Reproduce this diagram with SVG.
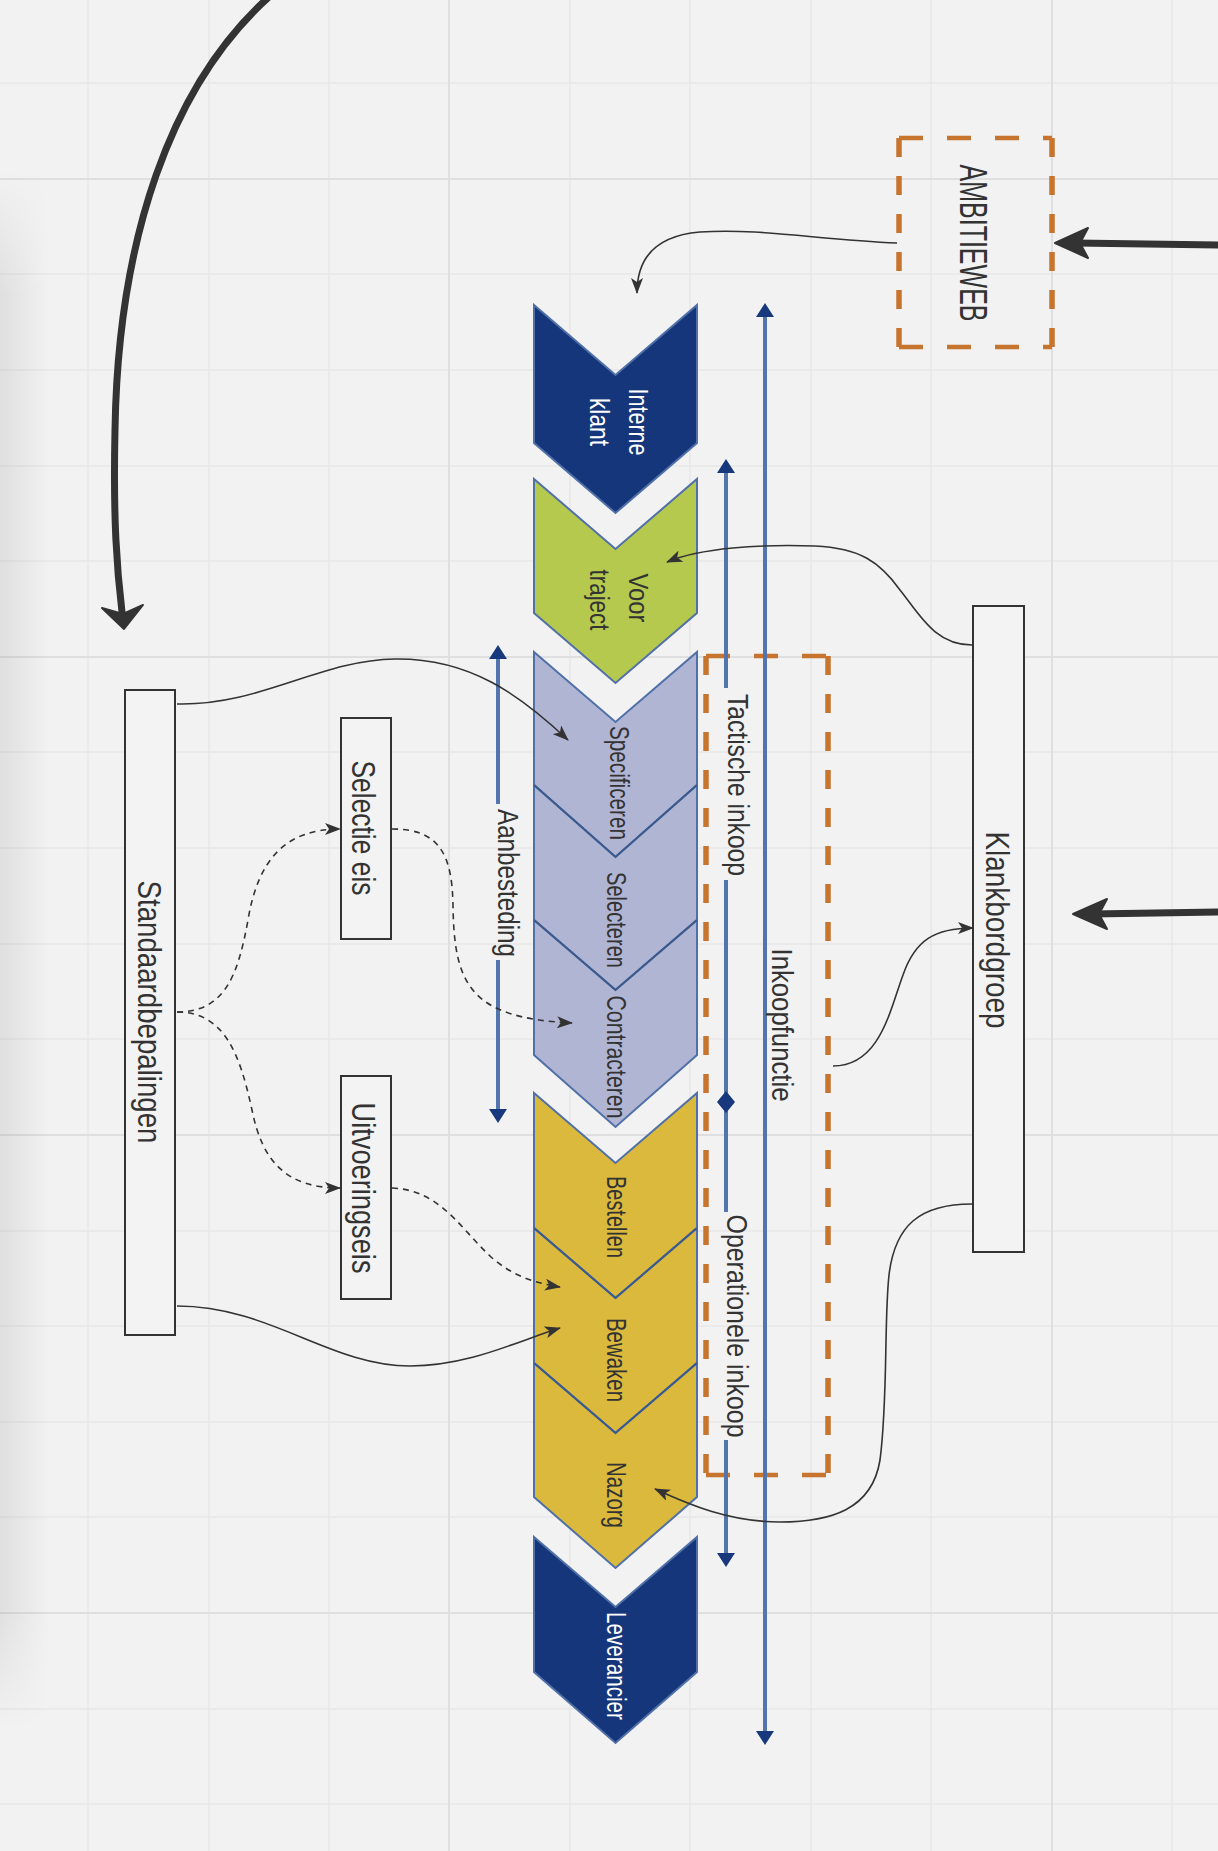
<svg xmlns="http://www.w3.org/2000/svg" width="1218" height="1851" viewBox="0 0 1218 1851">
<style>
.grid{stroke:#e8e8e8;stroke-width:1.6;fill:none}
.gridM{stroke:#dfdfdf;stroke-width:2;fill:none}
.t{font-family:"Liberation Sans",Arial,sans-serif;text-anchor:middle;fill:#333}
.ct{font-size:28px}
.cw{fill:#ffffff}
.lb{font-size:34px}
.ll{font-size:29px}
.box{fill:#f3f3f3;stroke:#333;stroke-width:2}
.odv{stroke:#c7742f;stroke-width:5.5;stroke-dasharray:19 19;fill:none}
.odh{stroke:#c7742f;stroke-width:4.5;stroke-dasharray:24 24;fill:none}
.bl{stroke:#5275ad;stroke-width:4;fill:none}
.bh{fill:#17387c}
.chev{stroke:#5070a8;stroke-width:2}
.div{stroke:#3d5a8c;stroke-width:2;fill:none}
.navy{fill:#15367a}
.green{fill:#b6c94f}
.purple{fill:#b1b5d4}
.yellow{fill:#dbb93c}
.cn{stroke:#333;stroke-width:1.6;fill:none}
.cd{stroke:#333;stroke-width:1.6;fill:none;stroke-dasharray:6 5}
.thick{stroke:#333;stroke-width:7;fill:none;stroke-linecap:round}
.head{fill:#333;stroke:#333;stroke-width:2;stroke-linejoin:round}
</style>
<defs>
<marker id="arr" viewBox="0 0 16 12" refX="15" refY="6" markerWidth="16" markerHeight="12" markerUnits="userSpaceOnUse" orient="auto">
<path d="M0,0 L16,6 L0,12 L4,6 Z" fill="#333"/>
</marker>
<linearGradient id="shadowH" x1="0" x2="1" y1="0" y2="0">
<stop offset="0" stop-color="#000" stop-opacity="0.075"/>
<stop offset="1" stop-color="#000" stop-opacity="0"/>
</linearGradient>
<linearGradient id="fadeV" x1="0" x2="0" y1="0" y2="1">
<stop offset="0" stop-color="#fff" stop-opacity="0"/>
<stop offset="0.08" stop-color="#fff" stop-opacity="1"/>
<stop offset="0.92" stop-color="#fff" stop-opacity="1"/>
<stop offset="1" stop-color="#fff" stop-opacity="0"/>
</linearGradient>
<mask id="fade"><rect x="0" y="170" width="60" height="1560" fill="url(#fadeV)"/></mask>
</defs>

<rect x="0" y="0" width="1218" height="1851" fill="#f2f2f2"/>

<g id="grid">
<path class="grid" d="M88 0V1851M209 0V1851M329 0V1851M570 0V1851M690 0V1851M811 0V1851M931 0V1851M1172 0V1851"/>
<path class="grid" d="M0 83H1218M0 274H1218M0 370H1218M0 466H1218M0 561H1218M0 752H1218M0 848H1218M0 944H1218M0 1039H1218M0 1231H1218M0 1326H1218M0 1422H1218M0 1517H1218M0 1709H1218M0 1804H1218"/>
<path class="gridM" d="M449 0V1851M1052 0V1851M0 179H1218M0 657H1218M0 1135H1218M0 1613H1218"/>
</g>
<rect x="0" y="170" width="50" height="1560" fill="url(#shadowH)" mask="url(#fade)"/>

<g id="ambitieweb">
<path class="odv" d="M899 138V347M1052 138V347"/>
<path class="odh" d="M899 138H1052M899 347H1052"/>
<text class="t" transform="translate(960,243) rotate(90)" font-size="38" textLength="157" lengthAdjust="spacingAndGlyphs">AMBITIEWEB</text>
</g>

<g id="inkoop-kader">
<path class="odv" d="M706 656V1475M828 656V1475"/>
<path class="odh" d="M706 656H828M706 1475H828"/>
</g>

<g id="inkoopfunctie">
<path class="bl" d="M765 315V1733"/>
<path class="bh" d="M765 303L774 317L756 317Z M765 1745L774 1731L756 1731Z"/>
<text class="t ll" transform="translate(772,1025) rotate(90)" textLength="153" lengthAdjust="spacingAndGlyphs">Inkoopfunctie</text>
</g>

<g id="tactisch-operationeel">
<path class="bl" d="M726 471V688M726 880V1093M726 1111V1212M726 1440V1555"/>
<path class="bh" d="M726 459L735 473L717 473Z M726 1567L735 1553L717 1553Z M726 1091L735 1102L726 1113L717 1102Z"/>
<text class="t ll" transform="translate(728,785) rotate(90)" textLength="182" lengthAdjust="spacingAndGlyphs">Tactische inkoop</text>
<text class="t ll" transform="translate(727,1326) rotate(90)" textLength="223" lengthAdjust="spacingAndGlyphs">Operationele inkoop</text>
</g>

<g id="aanbesteding">
<path class="bl" d="M498 657V804M498 960V1111"/>
<path class="bh" d="M498 645L507 659L489 659Z M498 1123L507 1109L489 1109Z"/>
<text class="t ll" transform="translate(498,883) rotate(90)" textLength="148" lengthAdjust="spacingAndGlyphs">Aanbesteding</text>
</g>

<g id="interne-klant">
<polygon class="chev navy" points="534,305 615.5,375 697,305 697,443 615.5,513 534,443"/>
<text class="t ct cw" transform="translate(629,422) rotate(90)" textLength="67" lengthAdjust="spacingAndGlyphs">Interne</text>
<text class="t ct cw" transform="translate(590,422) rotate(90)" textLength="48" lengthAdjust="spacingAndGlyphs">klant</text>
</g>

<g id="voor-traject">
<polygon class="chev green" points="534,479 615.5,549 697,479 697,613 615.5,683 534,613"/>
<text class="t ct" transform="translate(629,598) rotate(90)" textLength="49" lengthAdjust="spacingAndGlyphs">Voor</text>
<text class="t ct" transform="translate(590,600) rotate(90)" textLength="61" lengthAdjust="spacingAndGlyphs">traject</text>
</g>

<g id="specificeren">
<polygon class="chev purple" points="534,652 615.5,722 697,652 697,785 615.5,857 534,785"/>
<text class="t ct" transform="translate(610,783) rotate(90)" textLength="114" lengthAdjust="spacingAndGlyphs">Specificeren</text>
</g>
<g id="selecteren">
<polygon class="chev purple" points="534,785 615.5,857 697,785 697,920 615.5,990 534,920"/>
<path class="div" d="M534 785L615.5 857L697 785"/>
<text class="t ct" transform="translate(607,920) rotate(90)" textLength="96" lengthAdjust="spacingAndGlyphs">Selecteren</text>
</g>
<g id="contracteren">
<polygon class="chev purple" points="534,920 615.5,990 697,920 697,1055 615.5,1127 534,1055"/>
<path class="div" d="M534 920L615.5 990L697 920"/>
<text class="t ct" transform="translate(607,1057) rotate(90)" textLength="123" lengthAdjust="spacingAndGlyphs">Contracteren</text>
</g>

<g id="bestellen">
<polygon class="chev yellow" points="534,1093 615.5,1163 697,1093 697,1228 615.5,1298 534,1228"/>
<text class="t ct" transform="translate(607,1217) rotate(90)" textLength="82" lengthAdjust="spacingAndGlyphs">Bestellen</text>
</g>
<g id="bewaken">
<polygon class="chev yellow" points="534,1228 615.5,1298 697,1228 697,1363 615.5,1433 534,1363"/>
<path class="div" d="M534 1228L615.5 1298L697 1228"/>
<text class="t ct" transform="translate(607,1360) rotate(90)" textLength="84" lengthAdjust="spacingAndGlyphs">Bewaken</text>
</g>
<g id="nazorg">
<polygon class="chev yellow" points="534,1363 615.5,1433 697,1363 697,1497 615.5,1568 534,1497"/>
<path class="div" d="M534 1363L615.5 1433L697 1363"/>
<text class="t ct" transform="translate(607,1495) rotate(90)" textLength="66" lengthAdjust="spacingAndGlyphs">Nazorg</text>
</g>

<g id="leverancier">
<polygon class="chev navy" points="534,1537 615.5,1607 697,1537 697,1672 615.5,1743 534,1672"/>
<text class="t ct cw" transform="translate(607,1666) rotate(90)" textLength="108" lengthAdjust="spacingAndGlyphs">Leverancier</text>
</g>

<g id="klankbordgroep">
<rect class="box" x="973" y="606" width="51" height="646"/>
<text class="t lb" transform="translate(986,930) rotate(90)" textLength="197" lengthAdjust="spacingAndGlyphs">Klankbordgroep</text>
</g>

<g id="standaardbepalingen">
<rect class="box" x="125" y="690" width="50" height="645"/>
<text class="t lb" transform="translate(138,1012) rotate(90)" textLength="263" lengthAdjust="spacingAndGlyphs">Standaardbepalingen</text>
</g>

<g id="selectie-eis">
<rect class="box" x="341" y="718" width="50" height="221"/>
<text class="t lb" transform="translate(352,828) rotate(90)" textLength="135" lengthAdjust="spacingAndGlyphs">Selectie eis</text>
</g>

<g id="uitvoeringseis">
<rect class="box" x="341" y="1076" width="50" height="223"/>
<text class="t lb" transform="translate(352,1188) rotate(90)" textLength="171" lengthAdjust="spacingAndGlyphs">Uitvoeringseis</text>
</g>

<g id="connectors">
<path class="thick" d="M270 -4 C170 85, 118 240, 115 430 C113 520, 117 570, 122 612"/>
<path class="head" d="M124 629 L102 608 L123 614 L143 605 Z"/>
<path class="thick" d="M1222 245 L1075 243"/>
<path class="head" d="M1055 243 L1088 228 L1080 243 L1088 258 Z"/>
<path class="thick" d="M1222 912 L1092 914"/>
<path class="head" d="M1073 914 L1107 899 L1099 914 L1107 929 Z"/>
<path class="cn" marker-end="url(#arr)" d="M897 243 C820 240, 760 228, 700 232 C652 236, 637 262, 637 293"/>
<path class="cn" marker-end="url(#arr)" d="M972 645 C935 645, 920 615, 900 590 C880 562, 860 548, 815 546 C760 544, 700 548, 667 562"/>
<path class="cn" marker-end="url(#arr)" d="M972 1204 C920 1204, 895 1225, 889 1275 C884 1320, 888 1400, 880 1460 C872 1510, 830 1522, 780 1522 C730 1522, 690 1505, 655 1489"/>
<path class="cn" marker-end="url(#arr)" d="M833 1066 C880 1066, 890 1010, 903 975 C915 940, 935 928, 973 928"/>
<path class="cn" marker-end="url(#arr)" d="M177 704 C260 706, 320 660, 395 659 C470 658, 520 695, 568 740"/>
<path class="cn" marker-end="url(#arr)" d="M177 1306 C270 1306, 330 1366, 410 1366 C470 1366, 520 1340, 560 1328"/>
<path class="cd" marker-end="url(#arr)" d="M177 1012 C225 1012, 238 975, 248 920 C258 860, 285 829, 340 829"/>
<path class="cd" marker-end="url(#arr)" d="M177 1012 C225 1012, 240 1055, 252 1110 C262 1160, 285 1188, 340 1188"/>
<path class="cd" marker-end="url(#arr)" d="M392 829 C440 829, 452 855, 453 905 C454 985, 470 1018, 572 1023"/>
<path class="cd" marker-end="url(#arr)" d="M392 1188 C440 1190, 460 1228, 490 1256 C512 1276, 535 1283, 560 1287"/>
</g>
</svg>
